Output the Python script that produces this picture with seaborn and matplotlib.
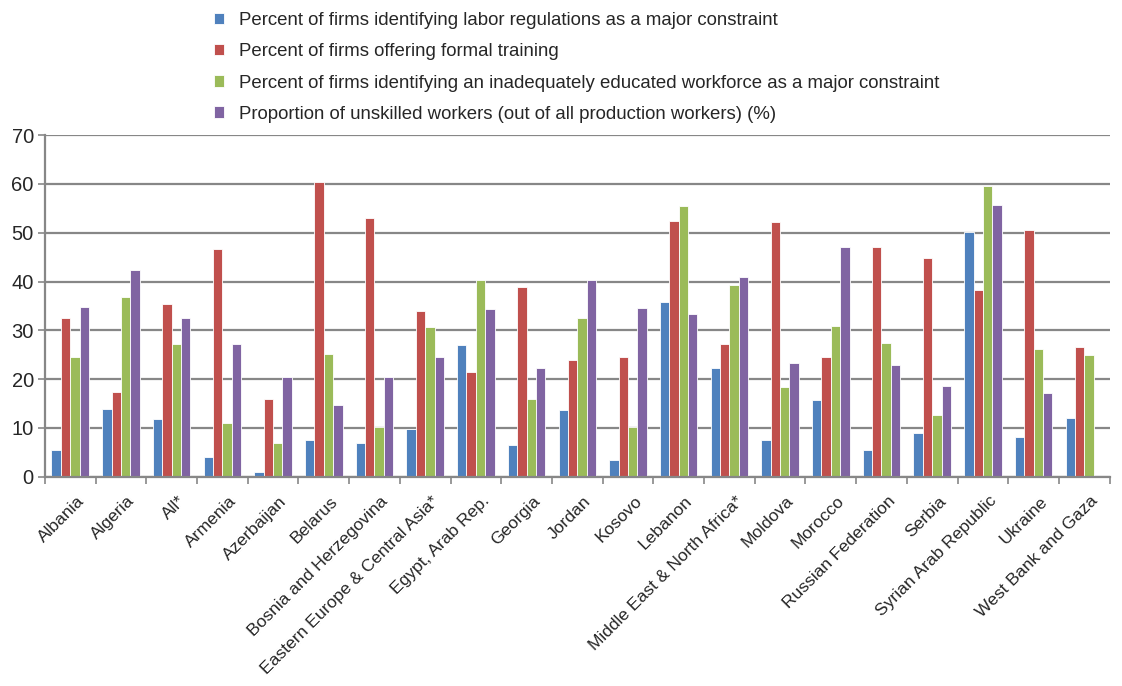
import numpy as np
import pandas as pd
import matplotlib
matplotlib.use("Agg")
import matplotlib.pyplot as plt
import matplotlib.transforms as mtransforms
import seaborn as sns
from matplotlib.ticker import FixedLocator

categories = ["Albania", "Algeria", "All*", "Armenia", "Azerbaijan", "Belarus",
              "Bosnia and Herzegovina", "Eastern Europe & Central Asia*",
              "Egypt, Arab Rep.", "Georgia", "Jordan", "Kosovo", "Lebanon",
              "Middle East & North Africa*", "Moldova", "Morocco",
              "Russian Federation", "Serbia", "Syrian Arab Republic", "Ukraine",
              "West Bank and Gaza"]

series_names = [
    "Percent of firms identifying labor regulations as a major constraint",
    "Percent of firms offering formal training",
    "Percent of firms identifying an inadequately educated workforce as a major constraint",
    "Proportion of unskilled workers (out of all production workers) (%)",
]

labor_regulations = [5.5, 13.8, 11.8, 4.0, 1.0, 7.5, 6.9, 9.7, 27.0, 6.6, 13.7,
                     3.5, 35.9, 22.3, 7.6, 15.8, 5.5, 8.9, 50.2, 8.1, 12.1]
formal_training = [32.6, 17.3, 35.4, 46.6, 15.9, 60.5, 53.0, 33.9, 21.5, 38.8,
                   23.9, 24.5, 52.4, 27.2, 52.3, 24.6, 47.1, 44.9, 38.2, 50.6, 26.5]
educated_workforce = [24.5, 36.8, 27.3, 11.0, 7.0, 25.2, 10.3, 30.6, 40.4, 16.0,
                      32.6, 10.2, 55.5, 39.3, 18.3, 30.8, 27.4, 12.6, 59.6, 26.1, 25.0]
unskilled_workers = [34.8, 42.3, 32.6, 27.2, 20.5, 14.7, 20.4, 24.5, 34.3, 22.2,
                     40.4, 34.5, 33.3, 40.9, 23.3, 47.1, 22.8, 18.6, 55.6, 17.1, np.nan]

colors = ["#4F81BD", "#C0504D", "#9BBB59", "#8064A2"]

rows = []
for name, vals in zip(series_names, [labor_regulations, formal_training,
                                     educated_workforce, unskilled_workers]):
    for c, v in zip(categories, vals):
        rows.append({"country": c, "series": name, "value": v})
df = pd.DataFrame(rows)

sns.set_theme(style="white")
plt.rcParams["font.family"] = ["Liberation Sans", "DejaVu Sans"]

fig = plt.figure(figsize=(11.22, 6.86), dpi=100)
ax = fig.add_axes([0.040, 0.305, 0.949, 0.498])

sns.barplot(data=df, x="country", y="value", hue="series", order=categories,
            hue_order=series_names, palette=colors, width=0.74, ax=ax,
            edgecolor="white", linewidth=0.6, saturation=1, legend=True)

ax.set_ylim(0, 70)
ax.set_xlim(-0.5, len(categories) - 0.5)
ax.set_yticks(range(0, 71, 10))
ax.yaxis.grid(True, color="#878787", linewidth=1.6)
ax.set_axisbelow(True)
ax.set_xlabel("")
ax.set_ylabel("")

for s in ["top", "right"]:
    ax.spines[s].set_visible(False)
for s in ["left", "bottom"]:
    ax.spines[s].set_color("#878787")
    ax.spines[s].set_linewidth(1.6)

ax.tick_params(axis="y", which="major", length=5, width=1.2, color="#878787",
               labelsize=14.5, pad=3, left=True)
ax.set_xticks(range(len(categories)))
ax.set_xticklabels(categories, rotation=45, ha="right", rotation_mode="anchor",
                   fontsize=12.6)
ax.tick_params(axis="x", which="major", length=0, pad=12, bottom=True)
ax.xaxis.set_minor_locator(FixedLocator(np.arange(-0.5, len(categories), 1.0)))
ax.tick_params(axis="x", which="minor", length=5, width=1.2, color="#878787",
               bottom=True)

offset = mtransforms.ScaledTranslation(6 / 100, 0, fig.dpi_scale_trans)
for lbl in ax.get_xticklabels():
    lbl.set_transform(lbl.get_transform() + offset)

handles, labels = ax.get_legend_handles_labels()
ax.legend(handles, labels, loc="upper left", bbox_to_anchor=(0.184, 0.993),
          bbox_transform=fig.transFigure, frameon=False, fontsize=13.4,
          handlelength=0.55, handleheight=0.55, handletextpad=0.8,
          labelspacing=0.76, borderaxespad=0)

fig.savefig("out.png", dpi=100)
